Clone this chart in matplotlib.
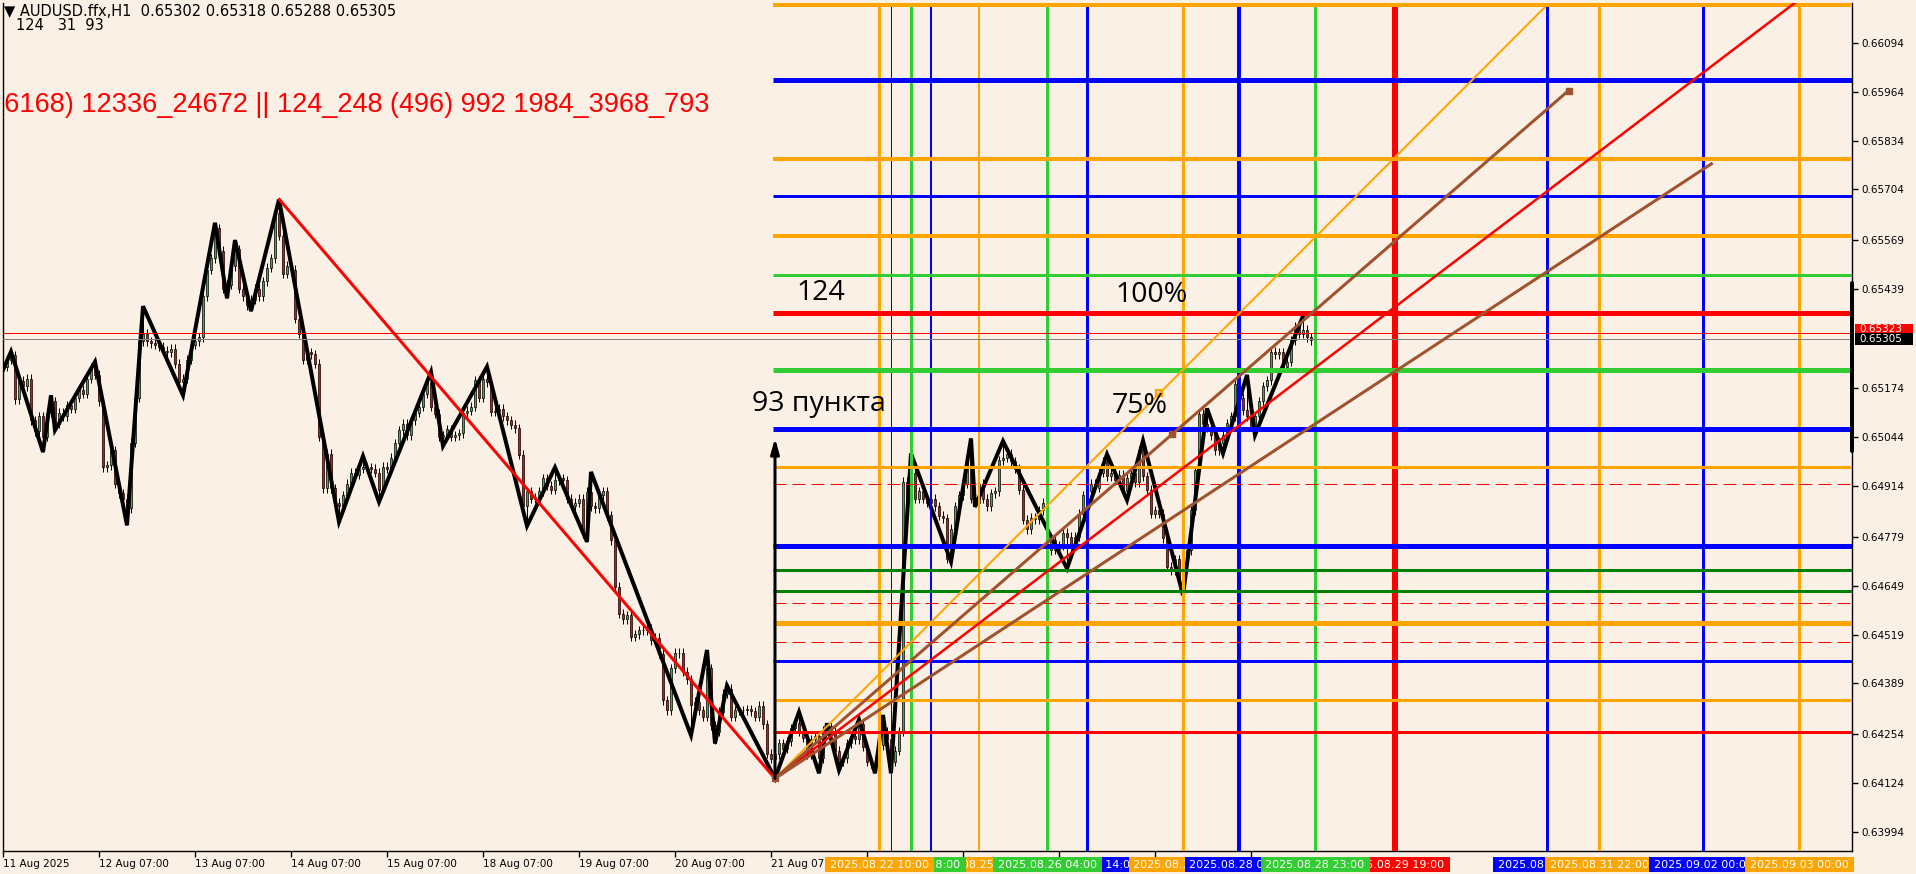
import numpy as np
import matplotlib.pyplot as plt
from matplotlib.patches import Rectangle
import matplotlib.transforms as mtransforms

plt.rcParams['lines.scale_dashes'] = False

BG = '#FAF0E6'
ORANGE = '#FFA500'
BLUE = '#0000FF'
LIME = '#32CD32'
GREEN = '#008000'
RED = '#FF0000'
BROWN = '#A0522D'
BULL = '#3DAE3D'

W, H = 1916, 874

# H1 closes, in points above 0.64000 (bar 0 = 11 Aug 07:00)
open0 = 1225
close_pts = [
    1232, 1250, 1262, 1145, 1195, 1180, 1200, 1090, 1060, 1100,
    1045, 1110, 1140, 1080, 1110, 1100, 1130, 1120, 1150, 1170,
    1160, 1200, 1230, 1210, 1140, 965, 970, 1010, 921, 895,
    880, 855, 1030, 1150, 1300, 1320, 1300, 1295, 1290, 1285,
    1275, 1270, 1280, 1240, 1190, 1200, 1250, 1290, 1300, 1310,
    1420, 1490, 1520, 1600, 1540, 1440, 1450, 1500, 1545, 1440,
    1420, 1395, 1410, 1440, 1420, 1460, 1495, 1520, 1640, 1580,
    1480, 1500, 1490, 1360, 1320, 1250, 1270, 1265, 1240, 1045,
    908, 1000, 908, 870, 860, 890, 920, 950, 945, 960,
    965, 965, 960, 950, 905, 966, 960, 990, 1028, 1063,
    1080, 1050, 1090, 1110, 1125, 1160, 1190, 1125, 1107, 1045,
    1050, 1065, 1045, 1050, 1055, 1110, 1115, 1125, 1196, 1150,
    1200, 1190, 1112, 1115, 1120, 1100, 1090, 1077, 1068, 997,
    860, 900, 880, 885, 900, 935, 915, 905, 930, 935,
    930, 880, 862, 870, 880, 788, 899, 860, 855, 890,
    900, 837, 770, 646, 575, 560, 570, 513, 520, 531,
    531, 535, 504, 510, 468, 344, 318, 429, 470, 470,
    420, 400, 331, 340, 318, 300, 429, 278, 260, 313,
    362, 375, 300, 318, 318, 318, 320, 315, 300, 330,
    280, 202, 189, 200, 230, 215, 235, 270, 285, 260,
    245, 200, 240, 250, 190, 265, 275, 260, 210, 180,
    190, 230, 250, 240, 280, 220, 180, 175, 170, 225,
    260, 240, 180, 210, 260, 926, 860, 950, 880, 900,
    880, 870, 880, 860, 835, 828, 721, 800, 860, 890,
    920, 992, 880, 870, 921, 880, 860, 895, 900, 983,
    990, 1000, 980, 960, 904, 824, 800, 830, 826, 850,
    870, 744, 770, 745, 755, 790, 780, 760, 780, 841,
    890, 900, 920, 910, 950, 979, 940, 950, 930, 945,
    900, 935, 950, 925, 1010, 940, 905, 841, 850, 840,
    775, 699, 690, 720, 660, 708, 744, 850, 957, 1107,
    1080, 1070, 1050, 1010, 1030, 1050, 1081, 1100, 1187, 1150,
    1116, 1100, 1072, 1100, 1140, 1180, 1196, 1272, 1265, 1270,
    1230, 1245, 1303, 1340, 1320, 1330, 1310, 1303, 1305,
]

# zigzag swing points
zz_bar = [0, 2, 10, 12, 13, 23, 31, 35, 45, 53, 56, 58, 62, 69, 84, 90, 94,
          107, 110, 121, 131, 138, 146, 147, 172, 176, 178, 181, 193, 199,
          204, 206, 209, 214, 218, 220, 222, 227, 237, 242, 243, 250, 266,
          276, 281, 285, 295, 301, 305, 311, 313, 325]
zz_pts = [1223, 1272, 1005, 1156, 1063, 1245, 810, 1393, 1156, 1615, 1414,
          1569, 1380, 1677, 819, 994, 872, 1218, 1021, 1232, 808, 964, 766,
          952, 251, 478, 229, 383, 136, 313, 150, 283, 158, 293, 150, 305,
          150, 1001, 713, 1041, 859, 1034, 695, 999, 877, 1035, 624, 1121,
          1001, 1210, 1050, 1367]

# horizontal levels (start at the 21 Aug low)
hl_start = 192.6
hl_price = [0.66194, 0.65995, 0.65784, 0.65687, 0.65581, 0.65475, 0.65376,
            0.65223, 0.65066, 0.64966, 0.64919, 0.64755, 0.64690, 0.64634,
            0.64602, 0.64551, 0.64499, 0.64448, 0.64344, 0.64260]
hl_color = [ORANGE, BLUE, ORANGE, BLUE, ORANGE, LIME, RED, LIME, BLUE, ORANGE,
            RED, BLUE, GREEN, GREEN, RED, ORANGE, RED, BLUE, ORANGE, RED]
hl_px = [4, 5, 4, 3, 4, 3, 5, 5, 5, 3, 1, 5, 3, 3, 1, 5, 1, 3, 3, 3]
hl_dashed = [False] * 10 + [True] + [False] * 3 + [True, False, True] + [False] * 3

# vertical time lines
vl_bar = [219, 222, 227, 232, 244, 261, 271, 295, 309, 328, 348, 386, 399, 425, 449]
vl_color = [ORANGE, BLUE, LIME, BLUE, ORANGE, LIME, BLUE, ORANGE, BLUE, LIME,
            RED, BLUE, ORANGE, BLUE, ORANGE]
vl_px = [3, 1, 3, 2, 2, 3, 3, 3, 4, 3, 6, 3, 3, 3, 3]
vl_text = ['2025.08.22 10:00', '2025.08.22 13:00', '2025.08.22 18:00',
           '2025.08.22 23:00', '2025.08.25 11:00', '2025.08.26 04:00',
           '2025.08.26 14:00', '2025.08.27 14:00', '2025.08.28 04:00',
           '2025.08.28 23:00', '2025.08.29 19:00', '2025.08.31 09:00',
           '2025.08.31 22:00', '2025.09.02 00:00', '2025.09.03 00:00']
vl_layer = [4, 1, 3, 1, 2, 3, 2, 3, 4, 5, 4, 1, 2, 3, 4]

# fan from the low
fan_origin = (193, 0.64136)
fan_orange = (289.1, 0.65161)
fan_red = (348, 0.65391)
brown_hi_mark = (292.2, 0.65053)
brown_hi_end = (391.4, 0.65967)
brown_lo_end = (427.1, 0.65772)
down_start = (69.1, 0.65677)
arrow_top = 0.65042

ytick_vals = [0.66094, 0.65964, 0.65834, 0.65704, 0.65569, 0.65439, 0.65174,
              0.65044, 0.64914, 0.64779, 0.64649, 0.64519, 0.64389, 0.64254,
              0.64124, 0.63994]
xtick_bars = [0, 24, 48, 72, 96, 120, 144, 168, 192, 216, 240, 264, 288, 312]
xtick_text = ['11 Aug 2025', '12 Aug 07:00', '13 Aug 07:00', '14 Aug 07:00',
              '15 Aug 07:00', '18 Aug 07:00', '19 Aug 07:00', '20 Aug 07:00',
              '21 Aug 07:00', '22 Aug 07:00', '25 Aug 07:00', '26 Aug 07:00',
              '27 Aug 07:00', '28 Aug 07:00']

PT = 0.72  # points per pixel at dpi 100

fig = plt.figure(figsize=(W / 100, H / 100), dpi=100, facecolor=BG)
ax = fig.add_axes([3 / W, 23 / H, 1849 / W, 848 / H], facecolor=BG)
x_max = 1849 / 4
ax.set_xlim(0, x_max)
ax.set_ylim(0.63943, 0.66200)

# candles
closes = 0.64 + np.array(close_pts) / 1e5
opens = np.r_[0.64 + open0 / 1e5, closes[:-1]]
bars = np.arange(len(closes))
zz_price = 0.64 + np.array(zz_pts) / 1e5
highs = np.maximum(opens, closes) + 0.00012
lows = np.minimum(opens, closes) - 0.00012
for b, p in zip(zz_bar, zz_price):
    if p > max(opens[b], closes[b]):
        highs[b] = p
    else:
        lows[b] = p
ax.vlines(bars, lows, highs, color='black', lw=1 * PT, zorder=2)
body_col = [BULL if c >= o else RED for o, c in zip(opens, closes)]
ax.bar(bars, closes - opens, bottom=opens, width=0.6, color=body_col,
       edgecolor='black', linewidth=0.5, zorder=2.2)

# zigzag
ax.plot(zz_bar, zz_price, color='black', lw=4 * PT, zorder=3,
        solid_joinstyle='miter')

# vertical lines
for b, c, w in zip(vl_bar, vl_color, vl_px):
    ax.axvline(b, color=c, lw=w * PT, zorder=4)

# horizontal lines
for p, c, w, d in zip(hl_price, hl_color, hl_px, hl_dashed):
    ax.hlines(p, hl_start, x_max + 1, color=c, lw=w * PT, zorder=4.5,
              linestyles=(0, (13 * PT, 6 * PT)) if d else 'solid')

ax.axhline(0.65323, color=RED, lw=1 * PT, zorder=4.6)
ax.axhline(0.65305, color='#808080', lw=1 * PT, zorder=4.6)

# down trend line and fan
ax.plot([down_start[0], fan_origin[0]], [down_start[1], fan_origin[1]],
        color=RED, lw=3 * PT, zorder=5)
x0, y0 = fan_origin
for (xa, ya), c, w in [(fan_orange, ORANGE, 2), (fan_red, RED, 2.5)]:
    k = (ya - y0) / (xa - x0)
    ax.plot([x0, x_max + 5], [y0, y0 + k * (x_max + 5 - x0)], color=c,
            lw=w * PT, zorder=5)
ax.plot([x0, brown_hi_end[0]], [y0, brown_hi_end[1]], color=BROWN, lw=3 * PT, zorder=5)
ax.plot([x0, brown_lo_end[0]], [y0, brown_lo_end[1]], color=BROWN, lw=3 * PT, zorder=5)
ax.plot([fan_orange[0]], [fan_orange[1]], 's', ms=4, mfc='none', mec=ORANGE, mew=1.5, zorder=5.5)
ax.plot([brown_hi_mark[0], brown_hi_end[0], x0], [brown_hi_mark[1], brown_hi_end[1], y0],
        's', ms=4.5, color=BROWN, zorder=5.5)

# 93-point arrow
ax.annotate('', xy=(x0, arrow_top), xytext=(x0, y0),
            arrowprops=dict(arrowstyle='-|>,head_width=0.25,head_length=0.9',
                            color='black', lw=3 * PT, shrinkA=0, shrinkB=0),
            zorder=6)

big = dict(fontsize=20.5, family=['Open Sans', 'DejaVu Sans'], va='center',
           ha='left', color='black', zorder=7)
ax.text(198.25, 0.65428, '124', **big)
ax.text(278, 0.65424, '100%', **big)
ax.text(187.25, 0.65132, '93 пункта', **big)
ax.text(277.2, 0.65127, '75%', **big)

ax.text(176.5, 0.65928, '1542_3084 (6168) 12336_24672 || 124_248 (496) 992 1984_3968_793',
        ha='right', va='center', color=RED, fontsize=19.5,
        family=['Liberation Sans'], clip_on=True, zorder=7)

# axes styling
for s in ['left', 'right', 'bottom']:
    ax.spines[s].set_color('black')
    ax.spines[s].set_linewidth(1)
ax.spines['top'].set_visible(False)
ax.yaxis.tick_right()
ax.set_yticks(ytick_vals)
ax.set_yticklabels([f'{v:.5f}' for v in ytick_vals])
ax.tick_params(axis='y', length=4, width=1, pad=3, labelsize=7.5, colors='black')
ax.set_xticks(xtick_bars)
ax.set_xticklabels(xtick_text)
ax.tick_params(axis='x', length=4, width=1, pad=2, labelsize=7.5, colors='black')
for lbl in ax.get_xticklabels():
    lbl.set_horizontalalignment('left')

# thick marker on the price scale
ax.plot([x_max, x_max], [0.65455, 0.65008], color='black', lw=4 * PT,
        clip_on=False, solid_capstyle='round', zorder=8)

# time labels of vertical lines
tr = mtransforms.blended_transform_factory(ax.transData, fig.transFigure)
box_w = 109 / 4
for b, c, t, z in zip(vl_bar, vl_color, vl_text, vl_layer):
    box = Rectangle((b - box_w / 2, 2 / H), box_w, 15 / H, transform=tr,
                    facecolor=c, edgecolor='none', clip_on=False, zorder=10 + 2 * z)
    ax.add_patch(box)
    ax.text(b, 9.5 / H, t, transform=tr, ha='center', va='center', color='white',
            fontsize=8, clip_on=False, zorder=11 + 2 * z)

# price labels on the scale
fig.patches.append(Rectangle((1855 / W, 1 - 334 / H), 58 / W, 10 / H,
                             transform=fig.transFigure, facecolor=RED, edgecolor='none'))
fig.text(1859 / W, 1 - 329 / H, '0.65323', color='white', fontsize=7.5, va='center')
fig.patches.append(Rectangle((1855 / W, 1 - 345 / H), 58 / W, 12 / H,
                             transform=fig.transFigure, facecolor='black', edgecolor='none',
                             zorder=5))
fig.text(1859 / W, 1 - 339 / H, '0.65305', color='white', fontsize=7.5, va='center', zorder=6)

# header
fig.text(4 / W, 1 - 12 / H, '▼ AUDUSD.ffx,H1  0.65302 0.65318 0.65288 0.65305',
         fontsize=10.5, va='center')
fig.text(16 / W, 1 - 26 / H, '124   31  93', fontsize=10.5, va='center')

fig.savefig('out.png', dpi=100, facecolor=BG)
